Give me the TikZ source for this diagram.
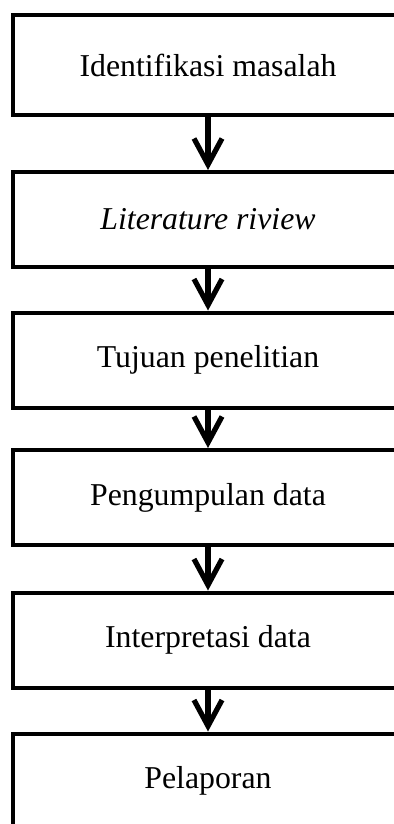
\documentclass[tikz,border=0pt]{standalone}
\usepackage{fontspec}
\setmainfont{Liberation Serif}
\usepackage{tikz}
\usetikzlibrary{arrows.meta}

\begin{document}
\begin{tikzpicture}[x=0.5pt,y=-0.5pt,
  tahap/.style={draw,line width=2pt,minimum width=195pt,minimum height=47.5pt,
    inner sep=0pt,font=\fontsize{15.9}{18}\selectfont},
  alur/.style={line width=2.6pt,-{Straight Barb[length=13pt,width=14pt,line join=miter]}}]
\useasboundingbox (0,0) rectangle (394,824);
\clip (0,0) rectangle (394,824);
\node[tahap,minimum height=50pt] (identifikasi) at (208,65) {Identifikasi masalah};
\node[tahap] (literatur) at (208,219.5) {\textit{Literature riview}};
\node[tahap] (tujuan) at (208,360) {Tujuan penelitian};
\node[tahap] (pengumpulan) at (208,497.5) {Pengumpulan data};
\node[tahap] (interpretasi) at (208,640) {Interpretasi data};
\node[tahap] (pelaporan) at (208,781) {Pelaporan};
\draw[alur] (identifikasi) -- (literatur);
\draw[alur] (literatur) -- (tujuan);
\draw[alur] (tujuan) -- (pengumpulan);
\draw[alur] (pengumpulan) -- (interpretasi);
\draw[alur] (interpretasi) -- (pelaporan);
\end{tikzpicture}
\end{document}
